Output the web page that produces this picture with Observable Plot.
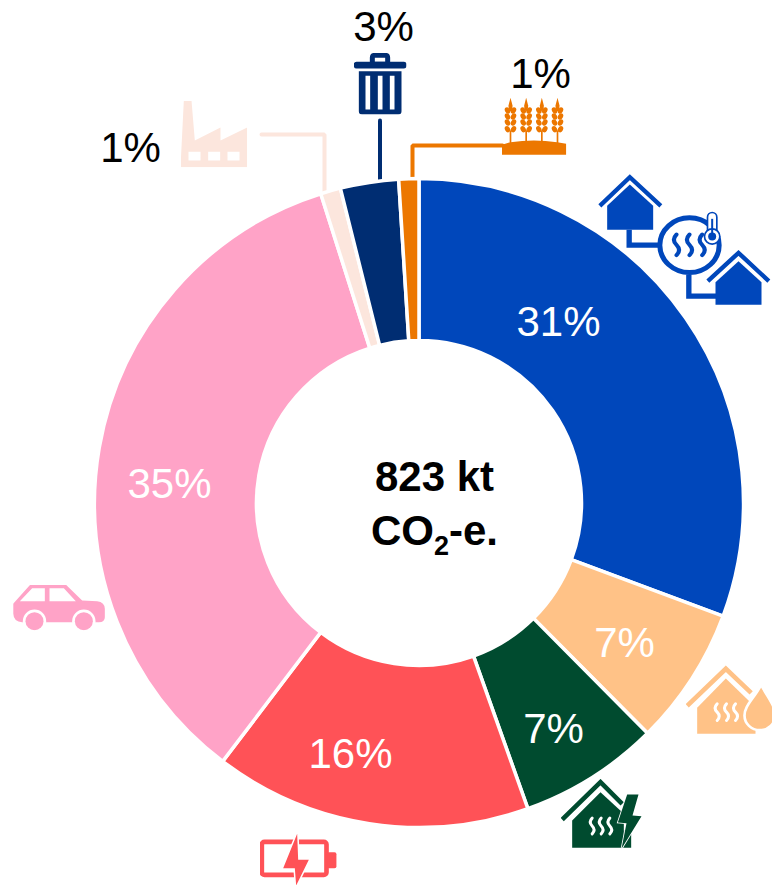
<!DOCTYPE html>
<html>
<head>
<meta charset="utf-8">
<style>html,body{margin:0;padding:0;background:#fff}svg{display:block}</style>
<script src="https://cdn.jsdelivr.net/npm/d3@7"></script>
<script src="https://cdn.jsdelivr.net/npm/@observablehq/plot@0.6"></script>
</head>
<body>
<div id="chart"></div>
<script>
// Data
const sectors = ["District heating","Oil heating","Electric heating","Electricity","Transport","Industry","Waste","Agriculture"];
const shares = [30.7,6.9,7.0,15.8,34.8,1.0,2.9,1.0];
const colors = ["#0047BB","#FFC287","#004B2F","#FF5257","#FFA3C7","#FCE6DD","#002D72","#EC7700"];
const percentLabels = ["31%","7%","7%","16%","35%","1%","3%","1%"];
const labelX = [558,624,553,350,169,130,383,540];
const labelY = [322,643,729,754,484,148,27,74];
const labelColors = ["#fff","#fff","#fff","#fff","#fff","#000","#000","#000"];
const centerLines = ["823 kt","CO2-e."];

const center = [419,503], outerR = 324.5, innerR = 162.5;
const W = 772, H = 885;

const slices = d3.pie().sort(null).value((d) => d.share)(sectors.map((sector,i) => ({sector, share: shares[i]})));

function donut(data, options) {
  return Plot.dot(data, {
    x: () => center[0], y: () => center[1], fill: (d) => d.data.sector, stroke: "#fff", strokeWidth: 3.5,
    render(index, scales, values, dims, ctx) {
      const g = d3.select(ctx.document.createElementNS("http://www.w3.org/2000/svg","g"));
      const arc = d3.arc().innerRadius(innerR).outerRadius(outerR);
      for (const i of index) {
        g.append("path")
          .attr("transform", `translate(${values.x[i]},${values.y[i]})`)
          .attr("d", arc(data[i]))
          .attr("fill", values.fill[i])
          .attr("stroke", "#fff")
          .attr("stroke-width", 3.5);
      }
      return g.node();
    },
    ...options
  });
}

// Leader lines
const leaders = [
  {name:"Industry", color:colors[5], pts:[[261,134],[324,134],[324,194]]},
  {name:"Waste", color:colors[6], pts:[[379.5,120],[379.5,184]]},
  {name:"Agriculture", color:colors[7], pts:[[502,145],[412,145],[412,181]]}
];
const leaderRows = leaders.flatMap((l) => l.pts.map(([x,y]) => ({name:l.name, color:l.color, x, y})));

// Icons: drawn in 3x reference units
const wavy = (xs, y0, h, c, w) => xs.map((x) => `<path d="M${x} ${y0}q${-h/4} ${h/4} 0 ${h/2}q${h/4} ${h/4} 0 ${h/2}" fill="none" stroke="${c}" stroke-width="${w}" stroke-linecap="round"/>`).join("");
const ear = (x, c) => {
  let s = `<rect x="${x-2.5}" y="240" width="5" height="40" fill="${c}"/><path d="M${x} 142L${x+6} 165Q${x+6} 180 ${x} 182Q${x-6} 180 ${x-6} 165Z" fill="${c}"/>`;
  for (const y of [180,198,216,236]) {
    s += `<ellipse cx="${x-9}" cy="${y}" rx="7.5" ry="10" transform="rotate(-30 ${x-9} ${y})" fill="${c}"/><ellipse cx="${x+9}" cy="${y}" rx="7.5" ry="10" transform="rotate(30 ${x+9} ${y})" fill="${c}"/>`;
  }
  return s;
};
const icons = [
  {name:"Industry", ox:90, oy:0, vb:[270,300,200,200], body:(c)=>`<path fill="${c}" fill-rule="evenodd" d="M270 500L280 300H303L313 420L390 381V420L470 381V500ZM294 454V480H330V454ZM353 454V480H389V454ZM411 454V480H447V454Z"/>`},
  {name:"Waste", ox:90, oy:0, vb:[790,156,158,186], body:(c)=>`<path fill="${c}" fill-rule="evenodd" d="M838 186V172Q838 157 853 157H884Q899 157 899 172V186ZM853 184H884V172H853Z"/><rect x="790" y="184" width="158" height="20" rx="8" fill="${c}"/><path fill="${c}" fill-rule="evenodd" d="M805 212H933V332Q933 342 923 342H815Q805 342 805 332ZM825 226V327H839V226ZM862 226V327H876V226ZM898 226V327H912V226Z"/>`},
  {name:"Agriculture", ox:400, oy:50, vb:[304,140,194,175], body:(c)=>[330,377,424,471].map((x)=>ear(x,c)).join("")+`<path fill="${c}" d="M304 283L330 275Q400 265 470 275L497 280V313H304Z"/>`},
  {name:"District heating", ox:400, oy:50, vb:[590,368,525,402], body:(c)=>`
    <path d="M598 466L688 380L781 466" fill="none" stroke="${c}" stroke-width="13"/>
    <path d="M620 466L688 402L758 466V538H620Z" fill="${c}"/>
    <path d="M686 538V584H775" fill="none" stroke="${c}" stroke-width="16"/>
    <ellipse cx="867" cy="584" rx="89" ry="82" fill="#fff" stroke="${c}" stroke-width="15"/>
    ${wavy([828,867,905],552,62,c,12)}
    <rect x="921" y="486" width="28" height="75" rx="14" fill="#fff" stroke="${c}" stroke-width="5"/>
    <circle cx="935" cy="558" r="23" fill="#fff" stroke="${c}" stroke-width="5"/>
    <circle cx="935" cy="558" r="12" fill="${c}"/>
    <rect x="932" y="505" width="6" height="50" fill="${c}"/>
    <path d="M865 672V737H950" fill="none" stroke="${c}" stroke-width="16"/>
    <path d="M922 692L1014 607L1105 692" fill="none" stroke="${c}" stroke-width="13"/>
    <path d="M945 695L1014 632L1083 695V763H945Z" fill="${c}"/>`},
  {name:"Oil heating", ox:540, oy:650, vb:[435,43,261,210], body:(c)=>`
    <path d="M440 166L556 55L632 127" fill="none" stroke="${c}" stroke-width="14"/>
    <path d="M470 172L556 84L645 170V250H470Z" fill="${c}"/>
    ${wavy([530,558,585],160,50,"#fff",9)}
    <path d="M662 103C640 145 612 165 612 195A46 44 0 0 0 704 195C704 165 684 145 662 103Z" fill="${c}" stroke="#fff" stroke-width="8"/>`},
  {name:"Electric heating", ox:540, oy:650, vb:[60,385,245,208], body:(c)=>`
    <path d="M65 507L180 395L245 460" fill="none" stroke="${c}" stroke-width="14"/>
    <path d="M95 510L180 425L250 490V592H95Z" fill="${c}"/>
    <path d="M250 540H272V592H250Z" fill="${c}"/>
    ${wavy([155,182,208],503,47,"#fff",9)}
    <path d="M260 432H294L276 495L303 497L243 595L258 518L232 516Z" fill="${c}" stroke="#fff" stroke-width="5" paint-order="stroke"/>`},
  {name:"Electricity", ox:245, oy:825, vb:[42,22,232,160], body:(c)=>`
    <rect x="49" y="49" width="194" height="99" rx="8" fill="none" stroke="${c}" stroke-width="14"/>
    <rect x="245" y="80" width="28" height="48" rx="6" fill="${c}"/>
    <path d="M155 25L113 128H148L152 180L190 103H158Z" fill="${c}" stroke="#fff" stroke-width="9" paint-order="stroke"/>`},
  {name:"Transport", ox:0, oy:570, vb:[38,42,276,138], body:(c)=>`
    <path fill="${c}" d="M38 100L85 47Q89 42 96 42H190Q197 42 201 47L245 90L290 92Q313 95 313 115V140Q313 155 295 155H65Q40 155 38 130Z"/>
    <path fill="#fff" d="M58 92L95 53H133V92ZM147 53H190L226 92H147Z"/>
    <circle cx="102" cy="152" r="35" fill="#fff"/><circle cx="102" cy="152" r="27" fill="${c}"/>
    <circle cx="250" cy="152" r="35" fill="#fff"/><circle cx="250" cy="152" r="27" fill="${c}"/>`}
].map((ic) => {
  const c = colors[sectors.indexOf(ic.name)], [vx,vy,vw,vh] = ic.vb;
  const svg = `<svg xmlns="http://www.w3.org/2000/svg" viewBox="${vx} ${vy} ${vw} ${vh}">${ic.body(c)}</svg>`;
  return {name:ic.name, src:"data:image/svg+xml,"+encodeURIComponent(svg), w:vw/3, h:vh/3, x:ic.ox+(vx+vw/2)/3, y:ic.oy+(vy+vh/2)/3};
});

const labelRows = percentLabels.map((t,i) => ({t, x:labelX[i], y:labelY[i], c:labelColors[i]}));

// Sets the "2" of CO2 as a lowered subscript inside the same text element
function subscriptCO2(index, scales, values, dims, ctx, next) {
  const g = next(index, scales, values, dims, ctx);
  for (const t of g.querySelectorAll("text")) {
    if (t.textContent !== "CO2-e.") continue;
    t.textContent = "";
    const add = (s, attrs) => {
      const span = ctx.document.createElementNS("http://www.w3.org/2000/svg","tspan");
      span.textContent = s;
      for (const k in attrs) span.setAttribute(k, attrs[k]);
      t.appendChild(span);
    };
    add("CO", {});
    add("2", {"font-size":27, dy:10});
    add("-e.", {dy:-10});
  }
  return g;
}

const chart = Plot.plot({
  width: W, height: H,
  margin: 0,
  x: {domain:[0,W], range:[0,W], axis:null},
  y: {domain:[0,H], range:[0,H], axis:null},
  color: {domain:sectors, range:colors},
  style: {background:"#fff", fontFamily:"'Liberation Sans', Arial, sans-serif"},
  marks: [
    Plot.line(leaderRows, {x:"x", y:"y", z:"name", stroke:(d)=>d.color, strokeWidth:4, strokeLinejoin:"miter"}),
    donut(slices),
    Plot.image(icons, {x:"x", y:"y", width:"w", height:"h", src:"src", title:"name"}),
    Plot.text(labelRows, {x:"x", y:"y", text:"t", fill:(d)=>d.c, fontSize:42, textAnchor:"middle", lineAnchor:"middle"}),
    Plot.text(centerLines, {x:()=>434, y:(d,i)=>[477,531][i], text:(d)=>d, fill:"#000", fontSize:42, fontWeight:"bold", textAnchor:"middle", lineAnchor:"middle", render:subscriptCO2})
  ]
});
document.getElementById("chart").appendChild(chart);
</script>
</body>
</html>
